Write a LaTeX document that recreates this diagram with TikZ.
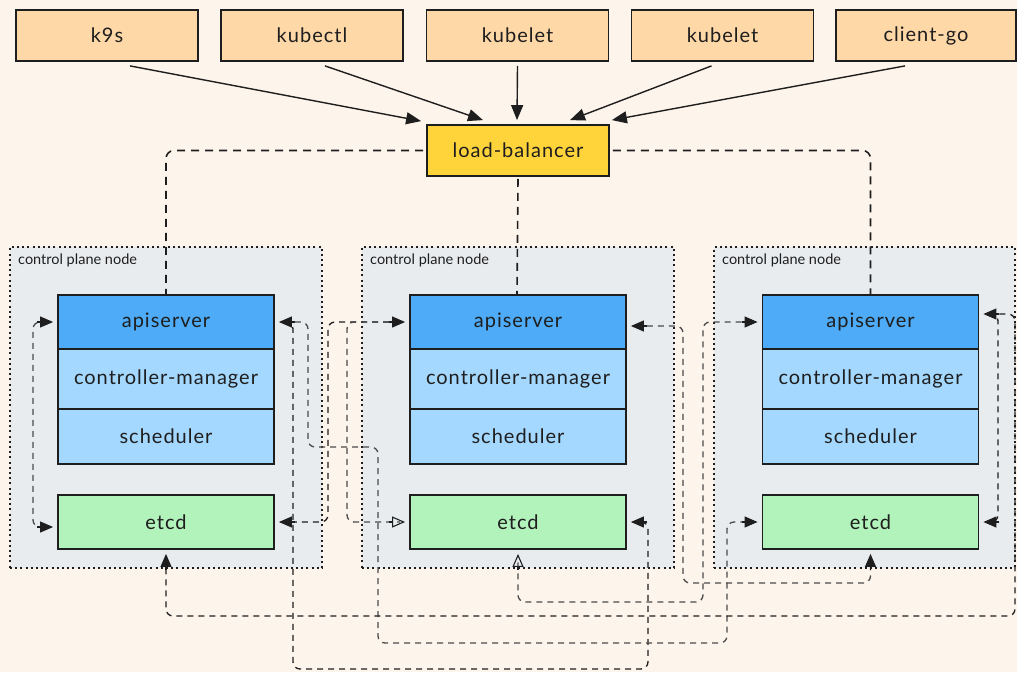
\documentclass[tikz,border=0pt]{standalone}
\usepackage{fontspec}
\setmainfont{Lato}
\newfontfamily\lblfont[LetterSpace=5]{Lato}
\usetikzlibrary{arrows.meta}
\definecolor{canvas}{HTML}{FDF4EB}
\definecolor{ink}{HTML}{1E1E1E}
\definecolor{inkgray}{HTML}{4A4A4A}
\definecolor{clientfill}{HTML}{FFD8A8}
\definecolor{lbfill}{HTML}{FFD43B}
\definecolor{apifill}{HTML}{4DABF7}
\definecolor{compfill}{HTML}{A5D8FF}
\definecolor{etcdfill}{HTML}{B2F2BB}
\definecolor{groupfill}{HTML}{E9ECEF}
\begin{document}
\begin{tikzpicture}[x=1pt,y=-1pt,
  box/.style={draw=ink, line width=1.8pt, inner sep=0pt, text=ink,
    font=\lblfont\fontsize{20}{23}\selectfont},
  client/.style={box, fill=clientfill, minimum width=182pt, minimum height=51pt},
  lbbox/.style={box, fill=lbfill, minimum width=182pt, minimum height=51pt},
  apibox/.style={box, fill=apifill, minimum width=216pt, minimum height=54pt},
  cmbox/.style={box, fill=compfill, minimum width=216pt, minimum height=60pt},
  schedbox/.style={box, fill=compfill, minimum width=216pt, minimum height=55pt},
  etcdbox/.style={box, fill=etcdfill, minimum width=216pt, minimum height=54pt},
  group/.style={draw=ink, fill=groupfill, line width=2pt,
    dash pattern=on 2pt off 3.2pt, inner sep=0pt, minimum height=321pt},
  grouplabel/.style={anchor=west, inner sep=0pt, text=ink,
    font=\fontsize{14.5}{16}\selectfont},
  feed/.style={draw=ink, line width=1.4pt, -{Triangle[length=15pt,width=12pt]}},
  lbline/.style={draw=ink, line width=1.6pt, dash pattern=on 8pt off 6pt,
    rounded corners=8pt},
  % routed links: rounded, dashed, heads drawn separately so the
  % corner rounding does not eat into the triangles
  link/.style={draw=ink, line width=1.3pt, dash pattern=on 6pt off 5pt,
    rounded corners=7pt, shorten <=5pt, shorten >=5pt},
  graylink/.style={link, draw=inkgray},
  linkhead/.style={draw=ink, fill=ink, line width=1.1pt,
    -{Triangle[length=13pt,width=11pt]}},
  linkopenhead/.style={draw=ink, line width=1.1pt,
    -{Triangle[open,length=13pt,width=11pt]}}
]
\useasboundingbox[fill=canvas] (0,0) rectangle (1017,672);

% clients
\node[client] (k9s)      at (107,35.5)   {k9s};
\node[client] (kubectl)  at (312,35.5)   {kubectl};
\node[client] (kubelet1) at (517.5,35.5) {kubelet};
\node[client] (kubelet2) at (722.5,35.5) {kubelet};
\node[client, minimum width=180pt] (clientgo) at (926,35.5) {client-go};

% load balancer
\node[lbbox] (lb) at (518,150.5) {load-balancer};

% control plane groups
\node[group, minimum width=312pt] (g1) at (166,407.5) {};
\node[group, minimum width=312pt] (g2) at (518,407.5) {};
\node[group, minimum width=301pt] (g3) at (864.5,407.5) {};
\node[grouplabel] (g1lbl) at (18,260) {control plane node};
\node[grouplabel] (g2lbl) at (370,260) {control plane node};
\node[grouplabel] (g3lbl) at (722,260) {control plane node};

% components of each control plane node
\foreach \i/\cx in {1/166, 2/518, 3/870.5} {
  \node[apibox]   (api\i)   at (\cx,322)   {apiserver};
  \node[cmbox]    (cm\i)    at (\cx,379)   {controller-manager};
  \node[schedbox] (sched\i) at (\cx,436.5) {scheduler};
  \node[etcdbox]  (etcd\i)  at (\cx,522)   {etcd};
}

% clients talk to the load balancer
\draw[feed] ([xshift=23pt,yshift=-4pt]k9s.south) -- ([xshift=-5pt,yshift=3pt]lb.north west);
\draw[feed] ([xshift=13pt,yshift=-4pt]kubectl.south) -- ([xshift=-35pt,yshift=4pt]lb.north);
\draw[feed] ([yshift=-4pt]kubelet1.south) -- ([xshift=-1pt,yshift=4pt]lb.north);
\draw[feed] ([xshift=-11pt,yshift=-4pt]kubelet2.south) -- ([xshift=52pt,yshift=4pt]lb.north);
\draw[feed] ([xshift=-21pt,yshift=-4pt]clientgo.south) -- ([xshift=2pt,yshift=4pt]lb.north east);

% load balancer to each apiserver
\draw[lbline] ([xshift=-3pt]lb.west) -- (api1.north |- lb.west) -- (api1.north);
\draw[lbline] ([yshift=-2pt]lb.south) -- ([xshift=-1pt]api2.north);
\draw[lbline] ([xshift=3pt]lb.east) -- (api3.north |- lb.east) -- (api3.north);

% arrow end points next to the boxes
\coordinate (a1l) at ([xshift=-4pt]api1.west);
\coordinate (a1r) at ([xshift=4pt]api1.east);
\coordinate (e1l) at ([xshift=-4pt,yshift=-5pt]etcd1.west);
\coordinate (e1r) at ([xshift=4pt]etcd1.east);
\coordinate (e1b) at ([yshift=-4pt]etcd1.south);
\coordinate (a2l) at ([xshift=-4pt]api2.west);
\coordinate (a2r) at ([xshift=4pt,yshift=-4pt]api2.east);
\coordinate (e2l) at ([xshift=-4pt]etcd2.west);
\coordinate (e2r) at ([xshift=4pt]etcd2.east);
\coordinate (e2b) at ([yshift=-4pt]etcd2.south);
\coordinate (a3l) at ([xshift=-4pt]api3.west);
\coordinate (a3r) at ([xshift=4pt,yshift=8pt]api3.east);
\coordinate (e3l) at ([xshift=-4pt]etcd3.west);
\coordinate (e3r) at ([xshift=4pt]etcd3.east);
\coordinate (e3b) at ([yshift=-4pt]etcd3.south);

% routing lanes
\coordinate (xa) at (33,0);
\coordinate (xb) at (293,0);
\coordinate (xc) at (308,0);
\coordinate (xd) at (328,0);
\coordinate (xe) at (347,0);
\coordinate (xf) at (378,0);
\coordinate (xg) at (648,0);
\coordinate (xh) at (683,0);
\coordinate (xi) at (703,0);
\coordinate (xj) at (727,0);
\coordinate (xk) at (998,0);
\coordinate (xl) at (1015,0);
\coordinate (ya) at (0,447);
\coordinate (yb) at (0,583);
\coordinate (yc) at (0,602);
\coordinate (yd) at (0,616);
\coordinate (ye) at (0,643);
\coordinate (yf) at (0,669);

% every apiserver talks to every etcd member
\draw[graylink] (a1l) -- (xa |- a1l) -- (xa |- e1l) -- (e1l);
\draw[link] (a1r) -- (xb |- a1r) -- (xb |- yf) -- (xg |- yf) -- (xg |- e2r) -- (e2r);
\draw[graylink] (a1r) -- (xc |- a1r) -- (xc |- ya) -- (xf |- ya) -- (xf |- ye)
  -- (xj |- ye) -- (xj |- e3l) -- (e3l);
\draw[link] (a2l) -- (xd |- a2l) -- (xd |- e1r) -- (e1r);
\draw[graylink] (a2l) -- (xe |- a2l) -- (xe |- e2l) -- (e2l);
\draw[graylink] (a2r) -- (xh |- a2r) -- (xh |- yb) -- (e3b |- yb) -- (e3b);
\draw[link] (a3r) -- (xl |- a3r) -- (xl |- yd) -- (e1b |- yd) -- (e1b);
\draw[graylink] (a3l) -- (xi |- a3l) -- (xi |- yc) -- (e2b |- yc) -- (e2b);
\draw[link] (a3r) -- (xk |- a3r) -- (xk |- e3r) -- (e3r);

% arrow heads at the box ends of the links
\foreach \p/\dx/\dy in {a1l/-16/0, e1l/-16/0, a1r/16/0, e1r/16/0, e1b/0/16,
    a2l/-16/0, a2r/16/0, e2r/16/0, a3l/-16/0, e3l/-16/0,
    a3r/16/0, e3r/16/0, e3b/0/16}
  \draw[linkhead] (\p) ++(\dx,\dy) -- (\p);
\foreach \p/\dx/\dy in {e2l/-16/0, e2b/0/16}
  \draw[linkopenhead] (\p) ++(\dx,\dy) -- (\p);
\end{tikzpicture}
\end{document}
